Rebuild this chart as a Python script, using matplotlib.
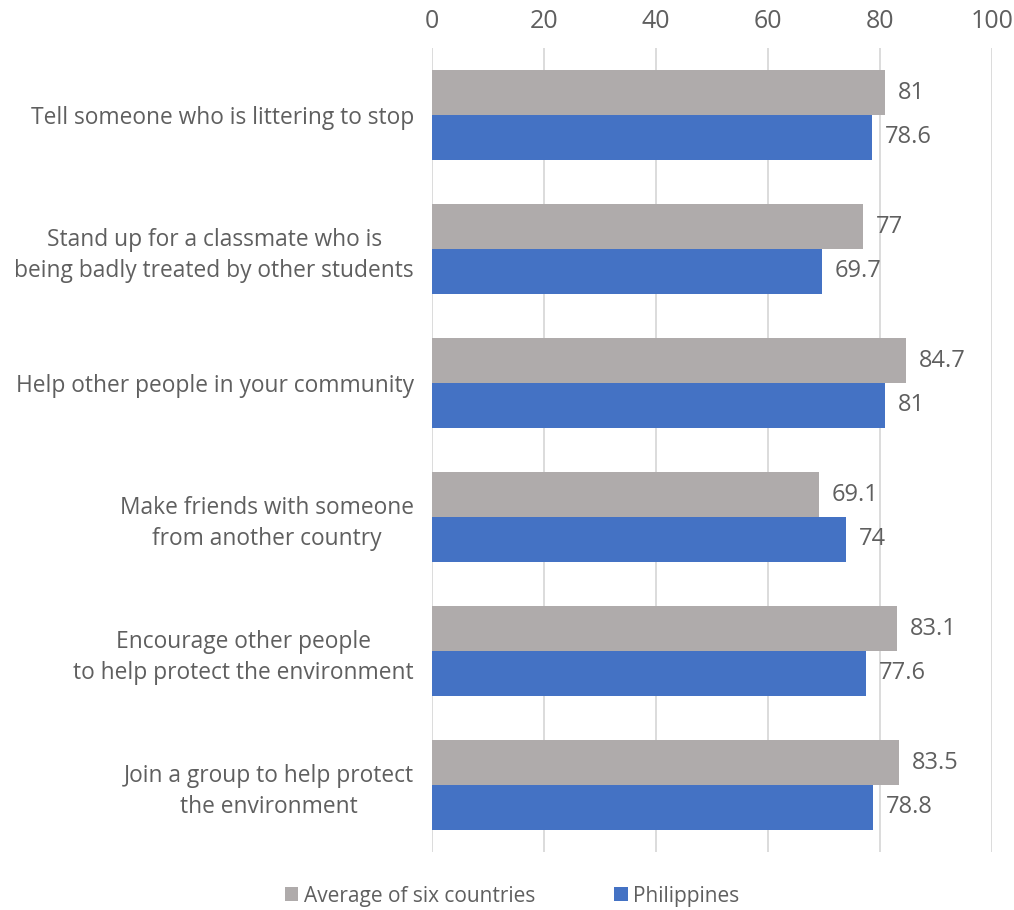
import matplotlib.pyplot as plt
import numpy as np

plt.rcParams['font.family'] = ['Open Sans', 'DejaVu Sans']

categories = [
    'Tell someone who is littering to stop',
    'Stand up for a classmate who is\nbeing badly treated by other students',
    'Help other people in your community',
    'Make friends with someone\nfrom another country',
    'Encourage other people\nto help protect the environment',
    'Join a group to help protect\nthe environment',
]
average = [81, 77, 84.7, 69.1, 83.1, 83.5]
philippines = [78.6, 69.7, 81, 74, 77.6, 78.8]
series_names = ['Average of six countries', 'Philippines']

gray = '#AFABAB'
blue = '#4472C4'
text_col = '#5F5F5F'

fig = plt.figure(figsize=(10.14, 9.1), dpi=100)
ax = fig.add_axes([0.426, 0.0637, 0.552, 0.8836])

y = np.arange(len(categories))
h = 0.335
b1 = ax.barh(y - h / 2, average, height=h, color=gray, label=series_names[0], zorder=3)
b2 = ax.barh(y + h / 2, philippines, height=h, color=blue, label=series_names[1], zorder=3)

# value labels at bar ends
for bars, vals in [(b1, average), (b2, philippines)]:
    for rect, v in zip(bars, vals):
        ax.annotate(f'{v:g}', (rect.get_width(), rect.get_y() + rect.get_height() / 2),
                    xytext=(9, 0), textcoords='offset points', va='center', ha='left',
                    fontsize=17, color=text_col)

ax.set_xlim(0, 100)
ax.set_ylim(len(categories) - 0.5, -0.5)
ax.set_xticks(np.arange(0, 101, 20))
ax.xaxis.tick_top()
ax.tick_params(axis='x', length=0, pad=10, labelsize=18, labelcolor=text_col)
ax.set_yticks(y)
ax.set_yticklabels(categories, multialignment='center', linespacing=1.4)
ax.tick_params(axis='y', length=0, pad=13, labelsize=16.4, labelcolor=text_col)
ax.grid(axis='x', color='#D9D9D9', linewidth=1.3, zorder=0)
for s in ax.spines.values():
    s.set_visible(False)

fig.legend(loc='lower center', bbox_to_anchor=(0.505, -0.017), ncol=2, frameon=False,
           fontsize=15, labelcolor=text_col, handlelength=0.65, handleheight=0.65,
           handletextpad=0.25, columnspacing=3.8)

fig.savefig('out.png', dpi=100)
